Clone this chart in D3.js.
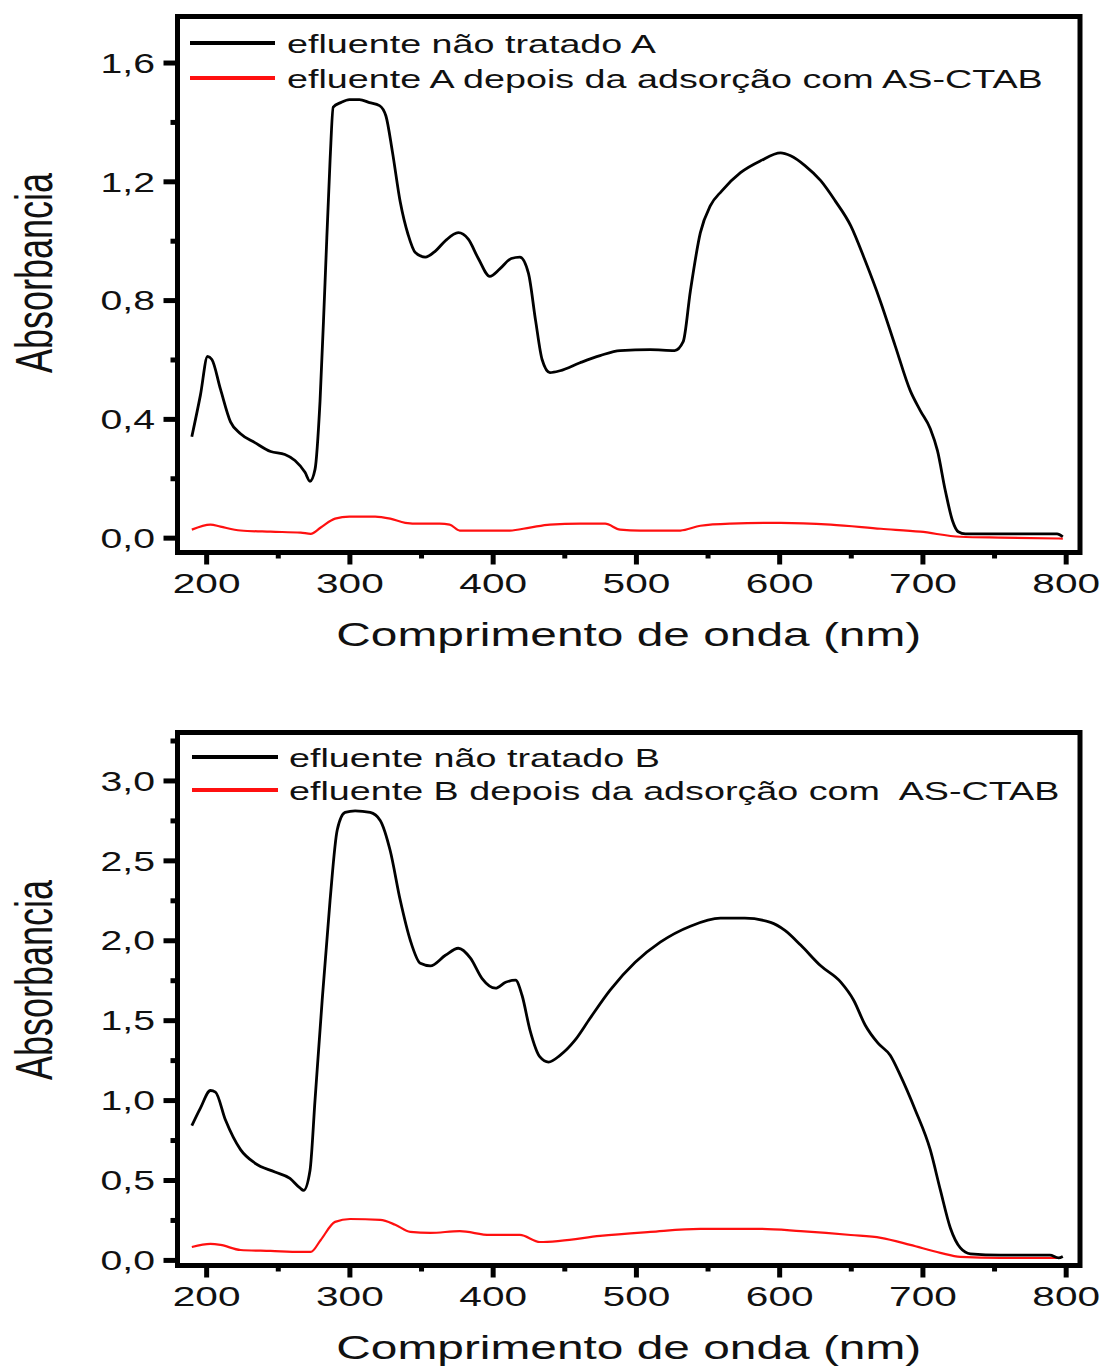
<!DOCTYPE html>
<html>
<head>
<meta charset="utf-8">
<script src="https://cdn.jsdelivr.net/npm/d3@7"></script>
<style>
  body { margin: 0; background: #fff; }
  svg { display: block; }
  text { font-family: "Liberation Sans", Arial, sans-serif; fill: #111; }
</style>
</head>
<body>
<div id="chart"></div>
<script>
// x tick values and labels
var xTicks = [200, 300, 400, 500, 600, 700, 800];
var xMinor = [250, 350, 450, 550, 650, 750];
var yTicksA = [0, 0.4, 0.8, 1.2, 1.6];
var yMinorA = [0.2, 0.6, 1.0, 1.4];
var yTicksB = [0, 0.5, 1.0, 1.5, 2.0, 2.5, 3.0];
var yMinorB = [0.25, 0.75, 1.25, 1.75, 2.25, 2.75, 3.25];

var legendA = ["efluente não tratado A", "efluente A depois da adsorção com AS-CTAB"];
var legendB = ["efluente não tratado B", "efluente B depois da adsorção com  AS-CTAB"];

// efluente A, sem tratamento [nm, absorbancia]
var rawA = [
  [190, 0.34], [196, 0.48], [201, 0.61], [204, 0.60], [210, 0.50], [217, 0.39],
  [224, 0.35], [234, 0.32], [245, 0.29], [255, 0.28], [262, 0.26], [269, 0.22],
  [272.5, 0.19], [276, 0.23], [279.5, 0.46], [283, 0.86], [286.5, 1.27], [288.7, 1.45],
  [294, 1.465], [300, 1.475], [307, 1.475], [314, 1.465], [321, 1.455], [325.5, 1.42],
  [330, 1.30], [335.5, 1.13], [341, 1.02], [346, 0.96], [353, 0.945], [360, 0.965],
  [367, 1.0], [376, 1.027], [383, 1.005], [390, 0.94], [398, 0.88], [405, 0.905],
  [413, 0.94], [419, 0.945], [425, 0.89], [430, 0.73], [434.5, 0.6], [440, 0.556],
  [447, 0.562], [461, 0.589], [475, 0.613], [489, 0.63], [510, 0.633], [527, 0.63],
  [533, 0.66], [538, 0.83], [545, 1.027], [552, 1.118], [560, 1.168], [573, 1.229],
  [587, 1.269], [601, 1.296], [608, 1.286], [618, 1.253], [629, 1.202], [639, 1.135],
  [650, 1.05], [660, 0.933], [670.5, 0.798], [681, 0.646], [691.5, 0.495], [698.5, 0.428],
  [705.5, 0.367], [710.5, 0.293], [716, 0.158], [721, 0.057], [725, 0.02], [730, 0.013],
  [755, 0.013], [789, 0.013], [794, 0.013], [798, 0.003]
];
// efluente A, depois da adsorção
var adsA = [
  [190, 0.027], [203, 0.044], [210, 0.037], [224, 0.024], [245, 0.02], [266, 0.017],
  [273, 0.013], [280, 0.034], [290, 0.064], [300, 0.071], [318, 0.071], [328.5, 0.064],
  [339, 0.05], [349, 0.047], [363, 0.047], [370, 0.044], [377, 0.024], [391, 0.024],
  [412, 0.024], [426, 0.034], [440, 0.044], [461, 0.047], [478.5, 0.047], [489, 0.027],
  [503, 0.024], [531, 0.024], [545, 0.04], [566, 0.047], [601, 0.05], [636, 0.044],
  [671, 0.03], [698.5, 0.02], [726.5, 0.003], [754.5, 0], [798, -0.003]
];
// efluente B, sem tratamento
var rawB = [
  [190, 0.84], [196, 0.95], [203, 1.06], [206.5, 1.05], [213.5, 0.875], [224, 0.69],
  [234, 0.606], [248, 0.55], [258.5, 0.51], [265.5, 0.45], [268, 0.435], [272.5, 0.56],
  [276, 1.0], [281, 1.625], [286.5, 2.25], [291.5, 2.69], [297, 2.8], [304, 2.81],
  [314.5, 2.8], [321.5, 2.75], [328.5, 2.56], [335.5, 2.25], [342.5, 2.0], [349.5, 1.856],
  [356.5, 1.84], [367, 1.906], [376, 1.95], [384.5, 1.888], [392.5, 1.762], [402, 1.70],
  [409, 1.737], [416, 1.75], [420.5, 1.656], [426, 1.44], [433, 1.27], [439, 1.238],
  [447, 1.28], [457.5, 1.375], [468, 1.512], [482, 1.688], [499.5, 1.862], [517, 1.988],
  [538, 2.088], [559, 2.138], [576, 2.138], [594, 2.112], [604, 2.062], [615, 1.97],
  [629, 1.84], [643, 1.738], [652, 1.625], [660, 1.47], [669, 1.356], [677.5, 1.28],
  [684.5, 1.156], [695, 0.938], [705.5, 0.688], [712.5, 0.438], [719.5, 0.2], [726.5, 0.075],
  [733.5, 0.038], [754.5, 0.03], [789, 0.03], [795, 0.013], [798, 0.022]
];
// efluente B, depois da adsorção
var adsB = [
  [190, 0.081], [203, 0.1], [210, 0.094], [224, 0.062], [245, 0.056], [266, 0.05],
  [273, 0.05], [280, 0.125], [290, 0.238], [300.5, 0.256], [321.5, 0.25], [332, 0.22],
  [342.5, 0.175], [356.5, 0.169], [377, 0.18], [398, 0.156], [419, 0.156], [433, 0.112],
  [447, 0.119], [475, 0.15], [510, 0.175], [545, 0.194], [587, 0.194], [615, 0.18],
  [650, 0.156], [671, 0.138], [691.5, 0.094], [712.5, 0.044], [726.5, 0.019], [754.5, 0.012],
  [796, 0.012]
];

var W = 1104, H = 1372;
var sx = 1.45; // largura das letras esticada como no original
var left = 177.5, right = 1080;

var svg = d3.select("#chart").append("svg")
  .attr("width", W)
  .attr("height", H);

var fmt = function (d) { return d3.format(".1f")(d).replace(".", ","); };

var drawPanel = function (cfg) {
  var x = d3.scaleLinear().domain([180, 810]).range([left, right]);
  var y = d3.scaleLinear().domain(cfg.yDomain).range([cfg.bottom, cfg.top]);
  var g = svg.append("g");

  // minor ticks
  g.append("g")
    .attr("transform", "translate(" + left + ",0)")
    .call(d3.axisLeft(y).tickValues(cfg.yMinor).tickSize(7).tickFormat(""))
    .call(function (a) { a.select(".domain").remove(); });
  g.append("g")
    .attr("transform", "translate(0," + cfg.bottom + ")")
    .call(d3.axisBottom(x).tickValues(xMinor).tickSize(6).tickFormat(""))
    .call(function (a) { a.select(".domain").remove(); });

  // major ticks + labels
  var ya = g.append("g")
    .attr("transform", "translate(" + left + ",0)")
    .call(d3.axisLeft(y).tickValues(cfg.yTicks).tickSize(14).tickFormat(fmt));
  ya.select(".domain").remove();
  ya.selectAll("text")
    .attr("x", -22.5 / sx)
    .attr("dy", "0.36em")
    .attr("transform", "scale(" + sx + ",1)")
    .style("font-size", "27px");

  var xa = g.append("g")
    .attr("transform", "translate(0," + cfg.bottom + ")")
    .call(d3.axisBottom(x).tickValues(xTicks).tickSize(12));
  xa.select(".domain").remove();
  xa.selectAll("text")
    .attr("y", 40.5)
    .attr("dy", 0)
    .attr("transform", "scale(" + sx + ",1)")
    .attr("x", function (d) { return 0; })
    .style("font-size", "28px");

  g.selectAll(".tick line")
    .attr("stroke", "#000")
    .attr("stroke-width", 5);
  g.selectAll(".tick text").attr("fill", "#111").attr("font-family", null);

  // curves
  var line = d3.line()
    .x(function (d) { return x(d[0]); })
    .y(function (d) { return y(d[1]); })
    .curve(d3.curveMonotoneX);

  g.append("path")
    .datum(cfg.ads)
    .attr("d", line)
    .attr("fill", "none")
    .attr("stroke", "#ff1010")
    .attr("stroke-width", 2.2);
  g.append("path")
    .datum(cfg.raw)
    .attr("d", line)
    .attr("fill", "none")
    .attr("stroke", "#000")
    .attr("stroke-width", 2.8)
    .attr("stroke-linejoin", "round");

  // frame
  g.append("rect")
    .attr("x", left)
    .attr("y", cfg.top)
    .attr("width", right - left)
    .attr("height", cfg.bottom - cfg.top)
    .attr("fill", "none")
    .attr("stroke", "#000")
    .attr("stroke-width", 5);

  // legend
  var lg = g.append("g");
  [["#000", cfg.legend[0]], ["#ff1010", cfg.legend[1]]].forEach(function (d, i) {
    var ly = cfg.legY[i];
    lg.append("line")
      .attr("x1", cfg.legX[0]).attr("x2", cfg.legX[1])
      .attr("y1", ly).attr("y2", ly)
      .attr("stroke", d[0])
      .attr("stroke-width", 4);
    lg.append("text")
      .attr("transform", "translate(" + cfg.legX[2] + "," + (ly + 10) + ") scale(" + sx + ",1)")
      .style("font-size", "26px")
      .style("white-space", "pre")
      .text(d[1]);
  });

  // axis titles
  g.append("text")
    .attr("transform", "translate(" + ((left + right) / 2) + "," + (cfg.bottom + 93) + ") scale(" + sx + ",1)")
    .attr("text-anchor", "middle")
    .style("font-size", "33px")
    .text("Comprimento de onda (nm)");
  g.append("text")
    .attr("transform", "translate(52," + cfg.yTitle + ") scale(" + sx + ",1) rotate(-90)")
    .attr("text-anchor", "middle")
    .style("font-size", "36px")
    .text("Absorbancia");
};

drawPanel({
  top: 16.5, bottom: 552.5, yDomain: [-0.05, 1.755],
  yTicks: yTicksA, yMinor: yMinorA,
  raw: rawA, ads: adsA, legend: legendA,
  legX: [190, 275, 287], legY: [43, 78], yTitle: 273
});
drawPanel({
  top: 732.5, bottom: 1265.5, yDomain: [-0.035, 3.3],
  yTicks: yTicksB, yMinor: yMinorB,
  raw: rawB, ads: adsB, legend: legendB,
  legX: [192, 278, 289], legY: [757, 790], yTitle: 980
});
</script>
</body>
</html>
